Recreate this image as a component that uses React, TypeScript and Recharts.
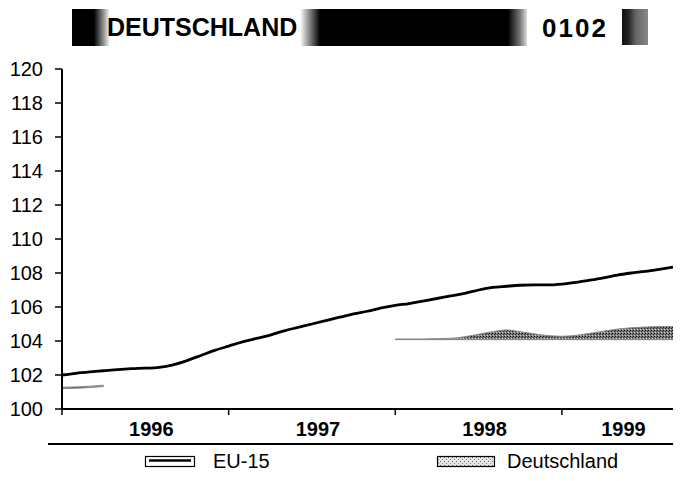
import { ComposedChart, Line, Area, XAxis, YAxis } from 'recharts'

// Monthly index values, Jan 1996 .. Sep 1999
const years = ['1996', '1997', '1998', '1999']
const months = Array.from({ length: 45 }, (_, i) => i)

const eu15 = [
  102.0, 102.1, 102.18, 102.25, 102.32, 102.37, 102.4, 102.45, 102.6, 102.85, 103.15, 103.45,
  103.7, 103.95, 104.15, 104.35, 104.6, 104.8, 105.0, 105.2, 105.4, 105.6, 105.75, 105.95,
  106.1, 106.2, 106.35, 106.5, 106.65, 106.8, 107.0, 107.15, 107.22, 107.28, 107.3, 107.3,
  107.35, 107.45, 107.58, 107.72, 107.88, 108.0, 108.1, 108.22, 108.35,
]

const deHigh = [
  101.28, 101.3, 101.34, 101.4, null, null, null, null, null, null, null, null,
  null, null, null, null, null, null, null, null, null, null, null, null,
  104.12, 104.12, 104.12, 104.14, 104.16, 104.25, 104.4, 104.55, 104.65, 104.55, 104.42, 104.32,
  104.28, 104.33, 104.45, 104.58, 104.7, 104.78, 104.82, 104.85, 104.85,
]

const deLow = [
  101.2, 101.22, 101.26, 101.32, null, null, null, null, null, null, null, null,
  null, null, null, null, null, null, null, null, null, null, null, null,
  104.08, 104.08, 104.08, 104.08, 104.08, 104.08, 104.08, 104.08, 104.08, 104.08, 104.08, 104.08,
  104.08, 104.08, 104.08, 104.08, 104.08, 104.08, 104.08, 104.08, 104.08,
]

const yTicks = [100, 102, 104, 106, 108, 110, 112, 114, 116, 118, 120]

const data = months.map((m) => ({
  m,
  eu: eu15[m],
  de: deHigh[m] == null || deLow[m] == null ? null : [deLow[m], deHigh[m]],
}))

const last = months[months.length - 1]
const yearStarts = years.map((_, i) => i * 12)
const yearMids = yearStarts.map((s) => (s + Math.min(s + 12, last)) / 2)
const xTicks = [...yearStarts, ...yearMids].sort((a, b) => a - b)

const font = '"Liberation Sans", Arial, Helvetica, sans-serif'
const TICK = 6
const GAP = 7

// year boundaries get a tick mark, mid-years get the label
function YearTick(props: any) {
  const { x, y, payload } = props
  const v = payload.value
  if (yearStarts.includes(v)) {
    const axisY = y - TICK - GAP
    return <line x1={x} x2={x} y1={axisY} y2={axisY + TICK} stroke="#000" strokeWidth={1.5} />
  }
  const idx = yearMids.indexOf(v)
  return (
    <text x={x + 6} y={y} dy="0.71em" textAnchor="middle" fontSize={20} fontWeight="bold" fill="#000" fontFamily={font}>
      {years[idx]}
    </text>
  )
}

function Header() {
  return (
    <>
      <div
        style={{
          position: 'absolute', left: 72, top: 9, width: 455, height: 37,
          background:
            'linear-gradient(to right, #000 0px, #000 22px, #999 32px, #fff 38px, #fff 228px, #999 236px, #000 248px, #000 436px, #777 448px, #ddd 455px)',
        }}
      />
      <div
        style={{
          position: 'absolute', left: 107, top: 9, height: 37, display: 'flex', alignItems: 'center',
          fontFamily: font, fontWeight: 'bold', fontSize: 25, lineHeight: 1, color: '#000',
        }}
      >
        DEUTSCHLAND
      </div>
      <div
        style={{
          position: 'absolute', left: 542, top: 9, height: 37, display: 'flex', alignItems: 'center',
          fontFamily: font, fontWeight: 'bold', fontSize: 26, lineHeight: 1, letterSpacing: 2, color: '#000',
        }}
      >
        0102
      </div>
      <div
        style={{
          position: 'absolute', left: 622, top: 9, width: 26, height: 36,
          background: 'linear-gradient(to right, #111 0px, #222 6px, #666 14px, #888 26px)',
        }}
      />
    </>
  )
}

function LegendRow() {
  return (
    <>
      <div style={{ position: 'absolute', left: 48, top: 443, width: 625, height: 2, background: '#000' }} />
      <svg style={{ position: 'absolute', left: 0, top: 445 }} width={680} height={36}>
        <defs>
          <pattern id="stippleLeg" width="4" height="4" patternUnits="userSpaceOnUse">
            <rect width="4" height="4" fill="#e4e4e4" />
            <rect x="0" y="0" width="1" height="1" fill="#666" />
            <rect x="2" y="2" width="1" height="1" fill="#888" />
          </pattern>
        </defs>
        <rect x={145.5} y={11.5} width={49} height={10} fill="#fff" stroke="#000" strokeWidth={1.2} />
        <line x1={149} x2={191} y1={15.5} y2={15.5} stroke="#000" strokeWidth={2.5} />
        <text x={213} y={23} fontSize={20} fontFamily={font} fill="#000">EU-15</text>
        <rect x={437.5} y={11.5} width={57} height={10} fill="url(#stippleLeg)" stroke="#000" strokeWidth={1.2} />
        <text x={507} y={23} fontSize={20} fontFamily={font} fill="#000">Deutschland</text>
      </svg>
    </>
  )
}

export default function App() {
  return (
    <div style={{ position: 'absolute', left: 0, top: 0, width: 680, height: 481, background: '#fff', overflow: 'hidden' }}>
      <Header />
      <div style={{ position: 'absolute', left: 0, top: 0 }}>
        <ComposedChart width={680} height={481} data={data} margin={{ top: 69, right: 7, bottom: 42, left: 0 }}>
          <defs>
            <pattern id="stipple" width="3" height="3" patternUnits="userSpaceOnUse">
              <rect width="3" height="3" fill="#7a7a7a" />
              <rect x="0" y="0" width="1" height="1" fill="#111" />
              <rect x="2" y="1" width="1" height="1" fill="#333" />
              <rect x="1" y="2" width="1" height="1" fill="#cfcfcf" />
            </pattern>
          </defs>
          <XAxis
            dataKey="m"
            type="number"
            domain={[0, last]}
            allowDataOverflow
            ticks={xTicks}
            interval={0}
            tick={<YearTick />}
            height={30}
            tickSize={TICK}
            tickMargin={GAP}
            axisLine={{ stroke: '#000', strokeWidth: 2 }}
            tickLine={false}
          />
          <YAxis
            type="number"
            domain={[100, 120]}
            ticks={yTicks}
            width={62}
            tickSize={7}
            tickMargin={12}
            tick={{ fontSize: 20, fill: '#000', fontFamily: font }}
            axisLine={{ stroke: '#000', strokeWidth: 2 }}
            tickLine={{ stroke: '#000', strokeWidth: 1.5 }}
            interval={0}
          />
          <Area
            dataKey="de"
            type="monotone"
            fill="url(#stipple)"
            fillOpacity={1}
            stroke="#8a8a8a"
            strokeWidth={1}
            dot={false}
            activeDot={false}
            isAnimationActive={false}
          />
          <Line
            dataKey="eu"
            type="monotone"
            stroke="#000"
            strokeWidth={2.8}
            dot={false}
            activeDot={false}
            isAnimationActive={false}
          />
        </ComposedChart>
      </div>
      <LegendRow />
    </div>
  )
}
